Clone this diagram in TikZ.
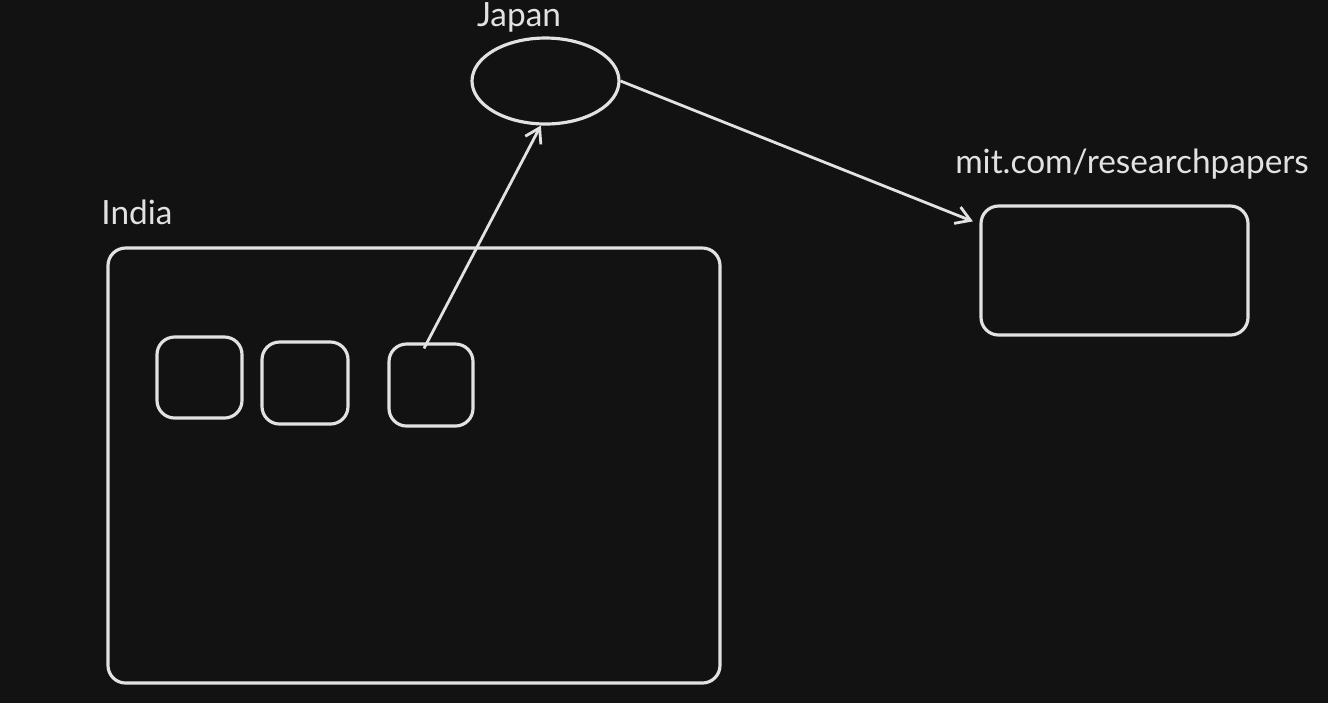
\documentclass[tikz,border=0pt]{standalone}
\usepackage{fontspec}
\setmainfont{Lato}
\usetikzlibrary{shapes.geometric,arrows.meta}

\begin{document}
\begin{tikzpicture}[
  frame/.style={draw=myline, line width=0.9pt, rounded corners=5pt, inner sep=0pt},
  label/.style={text=myline, font=\fontsize{9.5}{11}\selectfont, inner sep=0pt},
  link/.style={draw=myline, line width=0.8pt, -{Straight Barb[length=4pt,width=5pt]}}
]
\definecolor{mybg}{RGB}{18,18,18}
\definecolor{myline}{RGB}{226,226,226}
\fill[color=mybg] (0, 0) rectangle (13.28, -7.03) ; % Background
\useasboundingbox (0, 0) rectangle (13.28, -7.03) ;

\node[frame, minimum width=6.12cm, minimum height=4.35cm] (india) at (4.14, -4.655) {}; % India
\node[frame, minimum width=0.85cm, minimum height=0.81cm] (box1) at (1.995, -3.775) {}; % Box.1
\node[frame, minimum width=0.86cm, minimum height=0.82cm] (box2) at (3.05, -3.83) {}; % Box.2
\node[frame, minimum width=0.84cm, minimum height=0.82cm] (box3) at (4.31, -3.85) {}; % Box.3
\node[draw=myline, line width=0.9pt, ellipse, inner sep=0pt, minimum width=1.47cm, minimum height=0.86cm] (japan) at (5.455, -0.81) {}; % Japan
\node[frame, minimum width=2.67cm, minimum height=1.29cm] (mit) at (11.145, -2.705) {}; % Papers

\node[label] (indialabel) at (1.37, -2.12) {India};
\node[label] (japanlabel) at (5.19, -0.175) {Japan};
\node[label] (mitlabel) at (11.32, -1.64) {mit.com/researchpapers};

\coordinate (send) at ([xshift=-0.07cm, yshift=-0.06cm]box3.north) ;
\draw[link] (send) -- (japan.-96) ; % request
\draw[link, shorten >=2pt] (japan.east) -- (mit.161) ; % forward
\end{tikzpicture}
\end{document}
